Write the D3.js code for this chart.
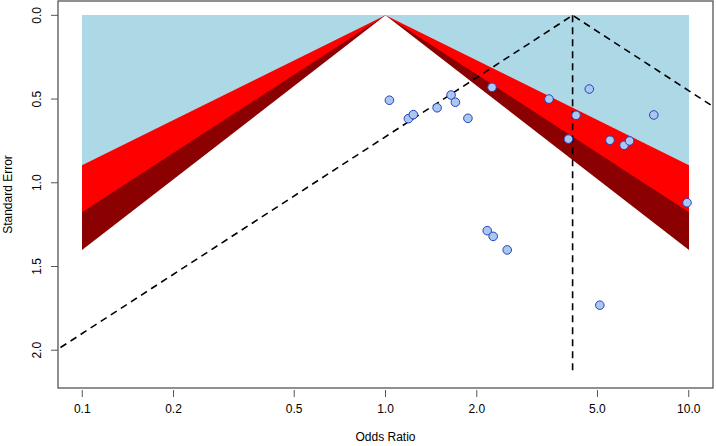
<!DOCTYPE html>
<html>
<head>
<meta charset="utf-8">
<script src="https://cdn.jsdelivr.net/npm/d3@7"></script>
<style>
  body { margin: 0; background: #fff; }
  text { font-family: "Liberation Sans", Arial, sans-serif; fill: #000; }
</style>
</head>
<body>
<svg id="canvas" width="716" height="446"></svg>
<script>
// study odds ratios and their standard errors
let oddsRatios = [1.03, 1.19, 1.235, 1.48, 1.645, 1.70, 1.87, 2.245, 3.46, 4.70, 4.25, 4.01,
  5.50, 6.12, 6.38, 7.67, 2.165, 2.265, 2.52, 5.09, 9.87];
let standardErrors = [0.507, 0.617, 0.593, 0.552, 0.476, 0.519, 0.615, 0.430, 0.500, 0.440, 0.597, 0.739,
  0.746, 0.776, 0.750, 0.595, 1.286, 1.320, 1.401, 1.731, 1.119];

// pooled estimate and funnel extent
let pooledOR = 4.14;
let seMax = 2.14;
let orRange = [0.1, 10];

// contour levels (two-sided) and fills, outermost first
let contourZ = [Infinity, 2.576, 1.960, 1.645];
let contourFill = ['lightblue', 'red', 'darkred', 'white'];

let xTicks = [0.1, 0.2, 0.5, 1, 2, 5, 10];
let xTickLabels = ['0.1', '0.2', '0.5', '1.0', '2.0', '5.0', '10.0'];
let yTicks = [0, 0.5, 1, 1.5, 2];
let yTickLabels = ['0.0', '0.5', '1.0', '1.5', '2.0'];

let canvas = d3.select('#canvas');

let plotLeft = 58, plotRight = 713, plotTop = 1, plotBottom = 388;

// R-style 4% padding on both axes
let logPad = 0.04 * (Math.log10(orRange[1]) - Math.log10(orRange[0]));
let xScale = d3.scaleLog()
  .domain([orRange[0] / Math.pow(10, logPad), orRange[1] * Math.pow(10, logPad)])
  .range([plotLeft, plotRight]);
let yScale = d3.scaleLinear()
  .domain([-0.04 * seMax, seMax * 1.04])
  .range([plotTop, plotBottom]);

// clip on whole pixels so the stacked layers don't bleed at the edges
let cx0 = Math.round(xScale(orRange[0])), cx1 = Math.round(xScale(orRange[1]));
let cy0 = Math.round(yScale(0)), cy1 = Math.round(yScale(seMax));

let defs = canvas.append('defs');
defs.append('clipPath').attr('id', 'funnel-clip')
  .append('rect')
  .attr('x', cx0).attr('y', cy0)
  .attr('width', cx1 - cx0).attr('height', cy1 - cy0);

defs.append('clipPath').attr('id', 'box-clip')
  .append('rect')
  .attr('x', plotLeft).attr('y', plotTop)
  .attr('width', plotRight - plotLeft).attr('height', plotBottom - plotTop);

let line = d3.line()
  .x(d => xScale(d[0]))
  .y(d => yScale(d[1]));

let funnel = canvas.append('g').attr('clip-path', 'url(#funnel-clip)');

// triangles run past the bottom and get cut by the clip
let seExt = seMax * 1.1;
contourZ.forEach((z, i) => {
  let pts;
  if (z === Infinity) {
    pts = [[0.05, -0.1], [20, -0.1], [20, seExt], [0.05, seExt]];
  } else {
    pts = [[Math.exp(-z * seExt), seExt], [1, 0], [Math.exp(z * seExt), seExt]];
  }
  funnel.append('path')
    .attr('d', line(pts) + 'Z')
    .attr('fill', contourFill[i])
    .attr('stroke', 'none');
});

// pseudo confidence region around pooled estimate
let est = Math.log(pooledOR);
let dashed = canvas.append('g').attr('clip-path', 'url(#box-clip)');

dashed.append('path')
  .attr('d', line([[Math.exp(est - 1.96 * seMax), seMax], [pooledOR, 0], [Math.exp(est + 1.96 * seMax), seMax]]))
  .attr('fill', 'none')
  .attr('stroke', 'black')
  .attr('stroke-width', 1.6)
  .attr('stroke-dasharray', '7,5');

dashed.append('path')
  .attr('d', line([[pooledOR, 0], [pooledOR, seMax]]))
  .attr('fill', 'none')
  .attr('stroke', 'black')
  .attr('stroke-width', 1.6)
  .attr('stroke-dasharray', '7,5');

// study points
canvas.append('g').selectAll('circle')
  .data(oddsRatios)
  .enter()
  .append('circle')
  .attr('cx', d => xScale(d))
  .attr('cy', (d, i) => yScale(standardErrors[i]))
  .attr('r', 4.3)
  .attr('fill', '#a8c8ee')
  .attr('stroke', '#2a3fc0')
  .attr('stroke-width', 1);

// box
canvas.append('rect')
  .attr('x', plotLeft).attr('y', plotTop)
  .attr('width', plotRight - plotLeft).attr('height', plotBottom - plotTop)
  .attr('fill', 'none')
  .attr('stroke', '#555')
  .attr('stroke-width', 1.3);

// x axis
let xAxis = canvas.append('g');
xTicks.forEach((t, i) => {
  xAxis.append('line')
    .attr('x1', xScale(t)).attr('x2', xScale(t))
    .attr('y1', plotBottom + 2).attr('y2', plotBottom + 9)
    .attr('stroke', '#555');
  xAxis.append('text')
    .attr('x', xScale(t)).attr('y', 413)
    .attr('text-anchor', 'middle')
    .attr('font-size', 12)
    .text(xTickLabels[i]);
});
canvas.append('text')
  .attr('x', (plotLeft + plotRight) / 2).attr('y', 441)
  .attr('text-anchor', 'middle')
  .attr('font-size', 12)
  .text('Odds Ratio');

// y axis
let yAxis = canvas.append('g');
yTicks.forEach((t, i) => {
  yAxis.append('line')
    .attr('x1', plotLeft - 7).attr('x2', plotLeft)
    .attr('y1', yScale(t)).attr('y2', yScale(t))
    .attr('stroke', '#555');
  yAxis.append('text')
    .attr('transform', 'translate(41,' + yScale(t) + ') rotate(-90)')
    .attr('text-anchor', 'middle')
    .attr('font-size', 12)
    .text(yTickLabels[i]);
});
canvas.append('text')
  .attr('transform', 'translate(12,' + (plotTop + plotBottom) / 2 + ') rotate(-90)')
  .attr('text-anchor', 'middle')
  .attr('font-size', 12)
  .text('Standard Error');
</script>
</body>
</html>
